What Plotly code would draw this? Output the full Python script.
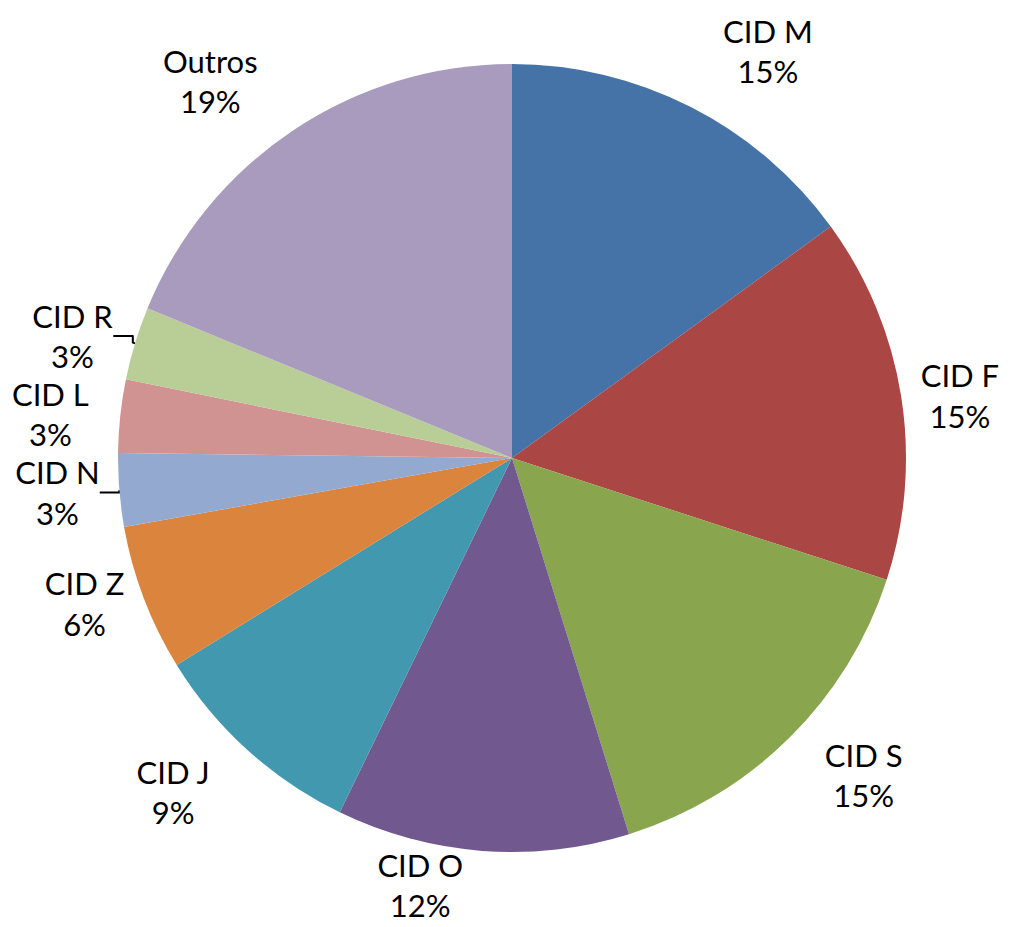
import plotly.graph_objects as go

categories = ["CID M", "CID F", "CID S", "CID O", "CID J", "CID Z", "CID N", "CID L", "CID R", "Outros"]
values = [15.0, 15.0, 15.2, 12.0, 9.0, 6.0, 3.0, 3.0, 3.0, 18.8]
colors = ["#4572A7", "#AA4643", "#89A54E", "#71588F", "#4198AF",
          "#DB843D", "#93A9CF", "#D19392", "#B9CD96", "#A99BBD"]
# label offset (fraction of the label-ring radius) for the invisible label ring
label_pull = [0.098, 0.026, 0.087, 0.013, 0.098, 0.026, 0.026, 0.057, 0.026, 0.098]

W, H = 1010, 927
cx, cy = 512, 458          # pie centre in figure pixels (from top-left)
r_pie = 394
r_ring = 384               # base radius of the invisible label ring


def dom(rad):
    return dict(x=[(cx - rad) / W, (cx + rad) / W],
                y=[(H - cy - rad) / H, (H - cy + rad) / H])


font = dict(family="Lato, Carlito, sans-serif", size=31, color="#000000")

labels_trace = go.Pie(
    labels=categories,
    values=values,
    sort=False,
    direction="clockwise",
    rotation=0,
    pull=label_pull,
    marker=dict(colors=["rgba(0,0,0,0)"] * len(values), line=dict(width=0)),
    texttemplate="%{label}<br>%{percent:.0%}",
    textposition="outside",
    outsidetextfont=font,
    textfont=font,
    automargin=False,
    showlegend=False,
    hoverinfo="skip",
    domain=dom(r_ring * (1 + max(label_pull))),
)

pie_trace = go.Pie(
    labels=categories,
    values=values,
    sort=False,
    direction="clockwise",
    rotation=0,
    marker=dict(colors=colors, line=dict(width=0)),
    textinfo="none",
    automargin=False,
    showlegend=False,
    hoverinfo="label+percent",
    domain=dom(r_pie),
)

fig = go.Figure([labels_trace, pie_trace])

fig.update_layout(
    width=W, height=H,
    margin=dict(l=0, r=0, t=0, b=0, autoexpand=False),
    paper_bgcolor="white",
    plot_bgcolor="white",
)

fig.write_html(
    "out.html",
    config={"displayModeBar": False},
    post_script="document.body.style.margin='0';document.body.style.overflow='hidden';",
)
